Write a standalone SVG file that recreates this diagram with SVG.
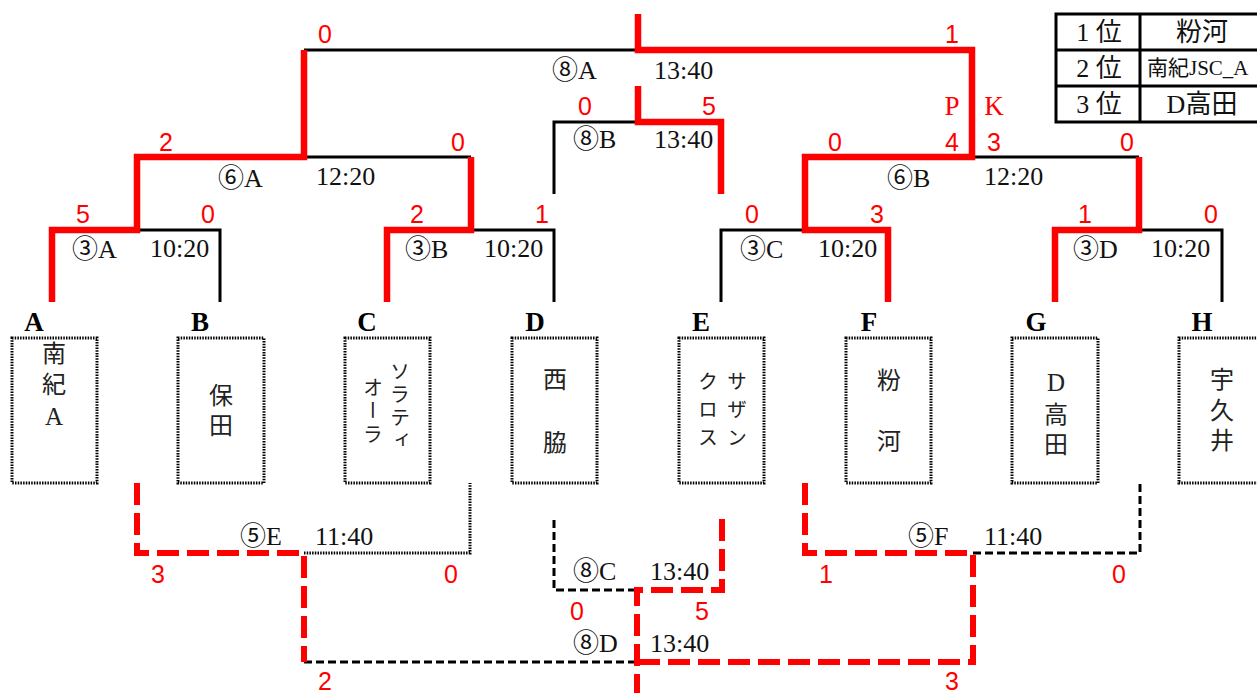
<svg xmlns="http://www.w3.org/2000/svg" width="1257" height="693" viewBox="0 0 1257 693">
<style>
.r{fill:none;stroke:#ff0000;stroke-width:6.5;stroke-linejoin:miter}
.k{fill:none;stroke:#000;stroke-width:3}
.rd{fill:none;stroke:#ff0000;stroke-width:6;stroke-dasharray:22 8}
.kd{fill:none;stroke:#000;stroke-width:3;stroke-dasharray:8 4}
.kdot{fill:none;stroke:#000;stroke-width:3;stroke-dasharray:1.5 1.2}
.box{fill:#fff;stroke:#000;stroke-width:3;stroke-dasharray:1.5 1.2}
.lb{font-family:"Liberation Serif","Noto Sans CJK JP",serif;font-size:26px;fill:#111}
.sc{font-family:"Liberation Sans",Arial,sans-serif;font-size:25px;fill:#ff0000;text-anchor:middle}
.pk{font-family:"Liberation Serif",serif;font-size:27px;fill:#ff0000;text-anchor:middle}
.let{font-family:"Liberation Serif",serif;font-size:27px;font-weight:bold;fill:#000;text-anchor:middle}
.v{font-family:"Noto Sans CJK JP",sans-serif;font-size:24px;fill:#222;writing-mode:vertical-rl;text-orientation:upright}
.vs{font-family:"Noto Sans CJK JP",sans-serif;font-size:20px;fill:#222;writing-mode:vertical-rl;text-orientation:upright}
.ser{font-family:"Liberation Serif",serif;font-size:25px}
.tt{font-family:"Liberation Serif","Noto Sans CJK JP",serif;font-size:26px;fill:#111;text-anchor:middle;dominant-baseline:central}
</style>
<g id="connectors">
<path class="k" d="M137 230H220V302M471 230H554V302M304 157H471M721 302V230H805M972 157H1139M1139 230H1222V302M304 50H638M554 194V122H638"/>
<path class="r" d="M52 302V230H137V157H304V50"/>
<path class="r" d="M888 302V230H805V157H972V50H638V14"/>
<path class="r" d="M387 302V230H471V157"/>
<path class="r" d="M1055 302V230H1139V157"/>
<path class="r" d="M721 194V122H638V86"/>
<path class="kdot" d="M304 553H470V483"/>
<path class="kd" d="M973 553H1140V483"/>
<path class="kd" d="M554 520V590H637"/>
<path class="kd" d="M304 662H637"/>
<path class="rd" d="M137 483V553H304V662"/>
<path class="rd" d="M805 483V553H973V662H637"/>
<path class="rd" d="M722 519V590H637V693"/>
</g>
<g id="match-labels">
<text class="lb" x="552" y="79">⑧A</text><text class="lb" x="654" y="79">13:40</text>
<text class="lb" x="573" y="148">⑧B</text><text class="lb" x="654" y="148">13:40</text>
<text class="lb" x="218" y="187">⑥A</text><text class="lb" x="316" y="185">12:20</text>
<text class="lb" x="887" y="187">⑥B</text><text class="lb" x="984" y="185">12:20</text>
<text class="lb" x="72" y="258">③A</text><text class="lb" x="150" y="257">10:20</text>
<text class="lb" x="405" y="258">③B</text><text class="lb" x="484" y="257">10:20</text>
<text class="lb" x="740" y="258">③C</text><text class="lb" x="818" y="257">10:20</text>
<text class="lb" x="1073" y="258">③D</text><text class="lb" x="1151" y="257">10:20</text>
<text class="lb" x="240" y="545">⑤E</text><text class="lb" x="315" y="545">11:40</text>
<text class="lb" x="908" y="545">⑤F</text><text class="lb" x="984" y="545">11:40</text>
<text class="lb" x="573" y="580">⑧C</text><text class="lb" x="650" y="580">13:40</text>
<text class="lb" x="573" y="652">⑧D</text><text class="lb" x="650" y="652">13:40</text>
</g>
<g id="scores">
<text class="sc" x="325" y="43">0</text><text class="sc" x="952" y="43">1</text>
<text class="sc" x="585" y="115">0</text><text class="sc" x="709" y="115">5</text>
<text class="pk" x="952" y="115">P</text><text class="pk" x="994" y="115">K</text>
<text class="sc" x="166" y="151">2</text><text class="sc" x="458" y="151">0</text>
<text class="sc" x="835" y="151">0</text><text class="sc" x="952" y="151">4</text>
<text class="sc" x="994" y="151">3</text><text class="sc" x="1127" y="151">0</text>
<text class="sc" x="83" y="223">5</text><text class="sc" x="208" y="223">0</text>
<text class="sc" x="417" y="223">2</text><text class="sc" x="542" y="223">1</text>
<text class="sc" x="752" y="223">0</text><text class="sc" x="877" y="223">3</text>
<text class="sc" x="1085" y="223">1</text><text class="sc" x="1211" y="223">0</text>
<text class="sc" x="158" y="583">3</text><text class="sc" x="451" y="583">0</text>
<text class="sc" x="826" y="583">1</text><text class="sc" x="1119" y="583">0</text>
<text class="sc" x="577" y="620">0</text><text class="sc" x="702" y="620">5</text>
<text class="sc" x="325" y="690">2</text><text class="sc" x="952" y="690">3</text>
</g>
<g id="team-A"><text class="let" x="34" y="331">A</text><rect class="box" x="12" y="338" width="85" height="145"/>
<text class="v" x="54" y="341" letter-spacing="7">南紀<tspan class="ser">A</tspan></text></g>
<g id="team-B"><text class="let" x="200" y="331">B</text><rect class="box" x="178" y="338" width="86" height="145"/>
<text class="v" x="221" y="383" letter-spacing="6">保田</text></g>
<g id="team-C"><text class="let" x="367" y="331">C</text><rect class="box" x="345" y="338" width="85" height="145"/>
<text class="vs" x="400" y="361" letter-spacing="3">ソラティ</text>
<text class="vs" x="373" y="377" letter-spacing="3.5">オーラ</text></g>
<g id="team-D"><text class="let" x="535" y="331">D</text><rect class="box" x="512" y="338" width="85" height="145"/>
<text class="v" x="555" y="367" letter-spacing="39">西脇</text></g>
<g id="team-E"><text class="let" x="701" y="331">E</text><rect class="box" x="679" y="338" width="85" height="145"/>
<text class="vs" x="737" y="371" letter-spacing="8">サザン</text>
<text class="vs" x="708" y="371" letter-spacing="8">クロス</text></g>
<g id="team-F"><text class="let" x="869" y="331">F</text><rect class="box" x="846" y="338" width="85" height="145"/>
<text class="v" x="889" y="368" letter-spacing="37">粉河</text></g>
<g id="team-G"><text class="let" x="1036" y="331">G</text><rect class="box" x="1012" y="338" width="86" height="145"/>
<text class="v" x="1056" y="369" letter-spacing="6"><tspan class="ser">D</tspan>高田</text></g>
<g id="team-H"><text class="let" x="1202" y="331">H</text><rect class="box" x="1179" y="338" width="86" height="145"/>
<text class="v" x="1222" y="367" letter-spacing="6.5">宇久井</text></g>
<g id="ranking">
<rect x="1056" y="14" width="210" height="108" fill="#fff" stroke="#000" stroke-width="3"/>
<path d="M1056 50H1266M1056 86H1266M1140 14V122" stroke="#000" stroke-width="3" fill="none"/>
<text class="tt" x="1099" y="32">1 位</text><text class="tt" x="1202" y="32">粉河</text>
<text class="tt" x="1099" y="68">2 位</text><text class="tt" x="1147" y="68" style="text-anchor:start;font-size:21px">南紀JSC_A</text>
<text class="tt" x="1099" y="104">3 位</text><text class="tt" x="1202" y="104">D高田</text>
</g>
</svg>
